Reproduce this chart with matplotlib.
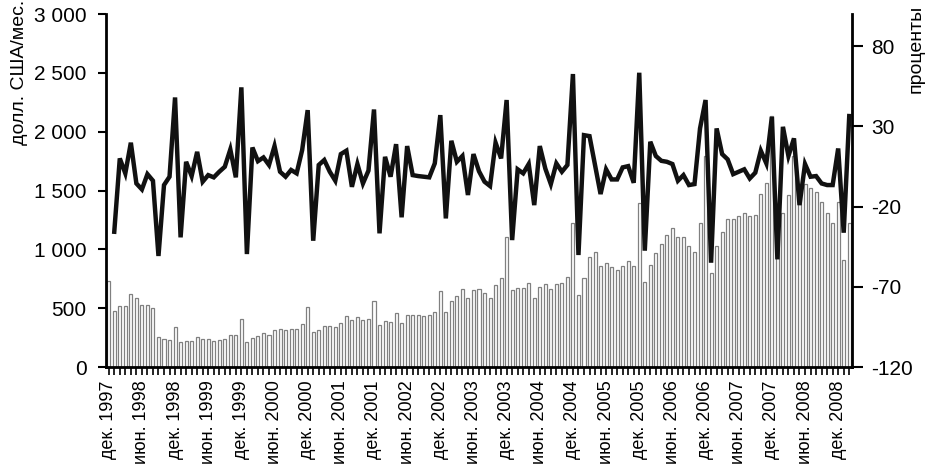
import numpy as np
import matplotlib.pyplot as plt

plt.rcParams['font.family'] = ['Liberation Sans', 'DejaVu Sans']

# monthly values, Dec 1997 .. Feb 2009
usd = [730, 476, 518, 521, 618, 584, 524, 524, 504, 255, 235, 230,
       340, 210, 221, 221, 252, 241, 241, 221, 230, 241, 275, 272,
       408, 210, 246, 266, 289, 272, 314, 320, 317, 323, 320, 365,
       507, 297, 312, 346, 349, 337, 377, 431, 397, 422, 397, 408,
       564, 357, 394, 385, 456, 377, 445, 439, 439, 431, 442, 470,
       646, 465, 561, 601, 666, 584, 652, 666, 632, 584, 694, 756,
       1102, 657, 672, 674, 717, 584, 680, 706, 663, 708, 717, 762,
       1227, 612, 759, 932, 980, 859, 887, 853, 824, 859, 904, 859,
       1391, 725, 867, 972, 1045, 1122, 1179, 1108, 1102, 1028, 975, 1227,
       1790, 802, 1028, 1150, 1255, 1258, 1283, 1312, 1283, 1292, 1470, 1567,
       2130, 1000, 1306, 1462, 1790, 1450, 1555, 1519, 1490, 1405, 1312, 1227,
       1405, 910, 1227]

# percent change, starts Jan 1998
pct = [-35.7, 10.0, 0.7, 19.8, -5.6, -9.3, 0.2, -3.9, -50.8, -6.6, -1.4,
       48.0, -39.2, 7.9, -1.0, 14.1, -4.5, -0.4, -1.8, 1.7, 4.8, 15.6, -1.8,
       54.3, -49.6, 16.8, 8.3, 10.6, 5.9, 17.7, 1.7, -1.4, 2.8, 0.7, 15.2,
       40.1, -41.3, 5.9, 9.0, 1.7, -3.9, 12.7, 14.8, -7.7, 6.5, -5.6, 2.4,
       40.5, -36.7, 11.0, -1.4, 18.9, -26.7, 17.7, -0.4, -1.0, -1.4, -1.8, 6.9,
       37.0, -27.4, 21.0, 7.9, 11.5, -12.8, 12.7, 2.0, -4.5, -7.2, 19.8, 10.0,
       46.4, -40.9, 3.2, 0.7, 6.5, -19.1, 17.7, 3.7, -6.0, 6.9, 1.7, 5.9,
       62.6, -50.2, 24.5, 23.9, 5.9, -12.2, 3.2, -3.1, -3.1, 4.4, 5.2, -5.2,
       63.4, -47.5, 20.4, 11.5, 8.5, 7.9, 6.5, -3.9, -0.4, -6.6, -6.0, 28.7,
       46.4, -55.0, 28.7, 12.7, 9.4, 0.2, 1.7, 3.2, -2.5, 1.1, 14.8, 6.9,
       35.9, -52.9, 29.7, 11.5, 22.5, -19.1, 6.5, -1.4, -1.0, -5.6, -6.6, -6.6,
       16.2, -36.3, 36.4]

xlabels = ['дек. 1997', 'июн. 1998', 'дек. 1998', 'июн. 1999', 'дек. 1999',
           'июн. 2000', 'дек. 2000', 'июн. 2001', 'дек. 2001', 'июн. 2002',
           'дек. 2002', 'июн. 2003', 'дек. 2003', 'июн. 2004', 'дек. 2004',
           'июн. 2005', 'дек. 2005', 'июн. 2006', 'дек. 2006', 'июн. 2007',
           'дек. 2007', 'июн. 2008', 'дек. 2008']
left_ticks = [0, 500, 1000, 1500, 2000, 2500, 3000]
left_labels = ['0', '500', '1 000', '1 500', '2 000', '2 500', '3 000']
right_ticks = [-120, -70, -20, 30, 80]

x = np.arange(len(usd))

fig = plt.figure(figsize=(9.28, 4.67), dpi=100)
ax = fig.add_axes([0.1142, 0.2141, 0.8039, 0.7559])
ax.bar(x, usd, width=0.55, color='white', edgecolor='#808080', linewidth=0.9)
ax.set_xlim(-0.5, len(usd) - 0.5)
ax.set_ylim(0, 3000)
ax.set_yticks(left_ticks)
ax.set_yticklabels(left_labels, fontsize=15)
ax.set_xticks(x, minor=True)
ax.set_xticks(x[::6])
ax.set_xticklabels(xlabels, rotation=90, fontsize=13)
ax.tick_params(axis='x', which='both', length=6, width=1.2, direction='out')
ax.tick_params(axis='y', length=6, width=1.5, pad=8)
ax.spines['top'].set_visible(False)
ax.spines['left'].set_linewidth(2)
ax.spines['bottom'].set_linewidth(2)

ax2 = ax.twinx()
ax2.plot(x[1:], pct, color='#111111', linewidth=3.2, solid_joinstyle='miter')
ax2.set_ylim(-120, 100)
ax2.set_yticks(right_ticks)
ax2.set_yticklabels([str(v) for v in right_ticks], fontsize=15)
ax2.tick_params(axis='y', length=8, width=1.5, pad=6)
ax2.spines['top'].set_visible(False)
ax2.spines['right'].set_linewidth(2)
ax2.spines['left'].set_visible(False)

fig.text(0.012, 1.0, 'долл. США/мес.', rotation=90, va='top', ha='left', fontsize=14)
fig.text(0.978, 0.99, 'проценты', rotation=90, va='top', ha='left', fontsize=14)

fig.savefig('out.png', dpi=100)
